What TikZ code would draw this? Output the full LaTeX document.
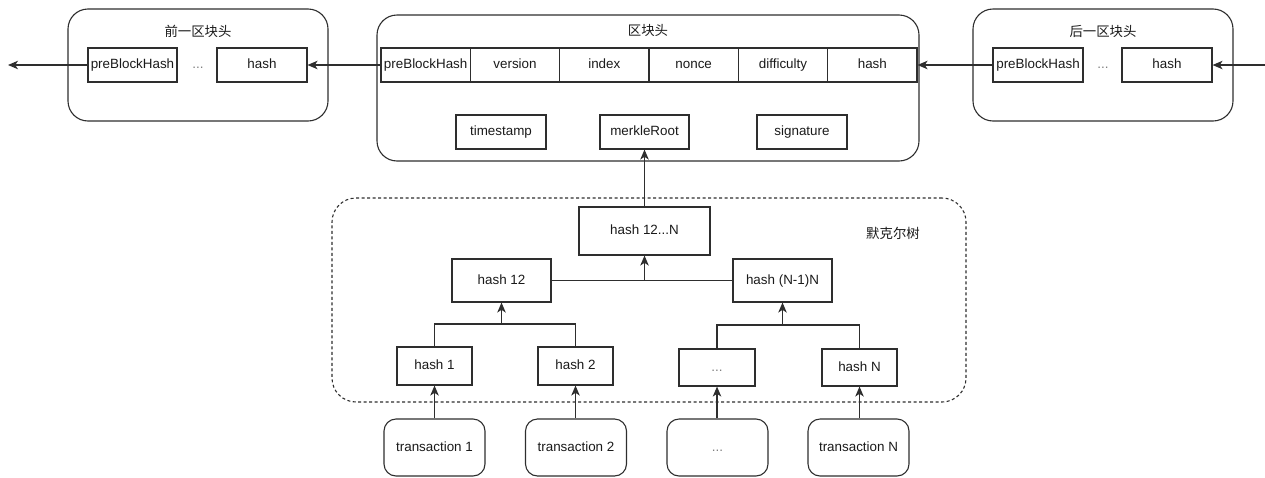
\documentclass[tikz,border=0pt]{standalone}
\usepackage{fontspec}
\setmainfont{Liberation Sans}
\newfontfamily\cjk{Noto Sans CJK SC}
\usetikzlibrary{arrows.meta}
\definecolor{linec}{HTML}{2E2E2E}
\definecolor{textc}{HTML}{1A1A1A}
\tikzset{
  base/.style={font=\fontsize{13.4pt}{15pt}\selectfont, text=textc, inner sep=0pt, text height=9.6pt, text depth=2.6pt},
  box/.style={base, draw=linec, line width=1.1pt, rectangle},
  blockbox/.style={draw=linec, line width=1.1pt, rounded corners=20pt, inner sep=0pt},
  txbox/.style={box, rounded corners=12pt, minimum width=101pt, minimum height=57pt},
  field/.style={box, minimum width=89.33pt, minimum height=34pt},
  merklebox/.style={draw=linec, line width=1.1pt, dash pattern=on 3pt off 2.5pt, rounded corners=24pt, inner sep=0pt},
  title/.style={base, font=\cjk\fontsize{13.4pt}{15pt}\selectfont},
  dotsc/.style={base, text=gray},
  conn/.style={draw=linec, line width=1.1pt},
  arr/.style={conn, -{Stealth[length=10pt, width=8.5pt, inset=2.8pt]}}
}
\begin{document}
\begin{tikzpicture}[x=1pt, y=-1pt]
\useasboundingbox (0,0) rectangle (1265,477);

% ---------- left block ----------
\node[blockbox, minimum width=260pt, minimum height=112pt] (lblock) at (198,65) {};
\node[title] (ltitle) at (198,33) {前一区块头};
\node[box, minimum width=89pt, minimum height=34pt] (lpre) at (132.5,65) {preBlockHash};
\node[dotsc] (ldots) at (198,65) {...};
\node[box, minimum width=90pt, minimum height=34pt] (lhash) at (262,65) {hash};
\coordinate (lend) at (8,65);

% ---------- middle block ----------
\node[blockbox, minimum width=542pt, minimum height=146pt] (mblock) at (648,88) {};
\node[title] (mtitle) at (648,32) {区块头};
\node[field] (f1) at (425.67,65) {preBlockHash};
\node[field] (f2) at (515,65) {version};
\node[field] (f3) at (604.33,65) {index};
\node[field] (f4) at (693.67,65) {nonce};
\node[field] (f5) at (783,65) {difficulty};
\node[field] (f6) at (872.33,65) {hash};
\node[box, minimum width=90pt, minimum height=34pt] (ts) at (501,132) {timestamp};
\node[box, minimum width=89pt, minimum height=34pt] (mr) at (644.5,132) {merkleRoot};
\node[box, minimum width=90pt, minimum height=34pt] (sig) at (802,132) {signature};

% ---------- right block ----------
\node[blockbox, minimum width=260pt, minimum height=112pt] (rblock) at (1103,65) {};
\node[title] (rtitle) at (1103,33) {后一区块头};
\node[box, minimum width=90pt, minimum height=34pt] (rpre) at (1038,65) {preBlockHash};
\node[dotsc] (rdots) at (1103,65) {...};
\node[box, minimum width=90pt, minimum height=34pt] (rhash) at (1167,65) {hash};
\coordinate (rstart) at (1265,65);

% ---------- merkle tree ----------
\node[merklebox, minimum width=634pt, minimum height=204pt] (mt) at (649,300) {};
\node[title] (mtlabel) at (893,235) {默克尔树};
\node[box, minimum width=131pt, minimum height=48pt] (h12N) at (644.5,231) {hash 12...N};
\node[box, minimum width=99pt, minimum height=43pt] (h12) at (501.5,280.5) {hash 12};
\node[box, minimum width=99pt, minimum height=43pt] (hN1N) at (782.5,280.5) {hash (N-1)N};
\node[box, minimum width=75pt, minimum height=38pt] (h1) at (434.5,366) {hash 1};
\node[box, minimum width=75pt, minimum height=38pt] (h2) at (575.5,366) {hash 2};
\node[box, minimum width=76pt, minimum height=37pt, text=gray] (hd) at (717,367.5) {...};
\node[box, minimum width=75pt, minimum height=37pt] (hN) at (859.5,367.5) {hash N};
\coordinate (j1) at (501.5,324);
\coordinate (j2) at (782.5,325);

% ---------- transactions ----------
\node[txbox] (tx1) at (434.5,447.5) {transaction 1};
\node[txbox] (tx2) at (576,447.5) {transaction 2};
\node[txbox, text=gray] (txd) at (717.5,447.5) {...};
\node[txbox] (txN) at (858.5,447.5) {transaction N};

% ---------- connectors ----------
\draw[arr] (lpre.west) -- (lend);
\draw[arr] (f1.west) -- (lhash.east);
\draw[arr] (rpre.west) -- (f6.east);
\draw[arr] (rstart) -- (rhash.east);
\draw[arr] (h12N.north -| mr.south) -- (mr.south);
\draw[conn] (h12.east) -- (hN1N.west);
\draw[arr] (h12N.south |- h12.east) -- (h12N.south);
\draw[conn] (h1.north) |- (j1) -| (h2.north);
\draw[arr] (j1) -- (h12.south);
\draw[conn] (hd.north) |- (j2) -| (hN.north);
\draw[arr] (j2) -- (hN1N.south);
\draw[arr] (h1.south |- tx1.north) -- (h1.south);
\draw[arr] (h2.south |- tx2.north) -- (h2.south);
\draw[arr] (hd.south |- txd.north) -- (hd.south);
\draw[arr] (hN.south |- txN.north) -- (hN.south);
\end{tikzpicture}
\end{document}
